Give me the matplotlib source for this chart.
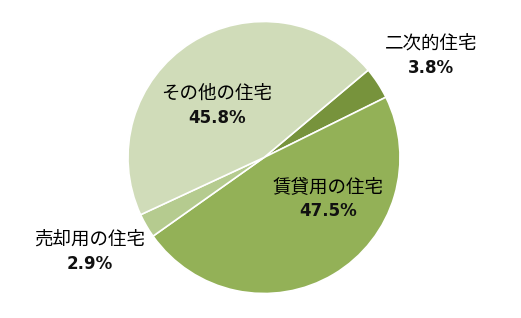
import matplotlib
matplotlib.use("Agg")
import matplotlib.pyplot as plt

plt.rcParams['font.family'] = ['Noto Sans CJK JP', 'DejaVu Sans']

# data (clockwise from the upper right)
labels = ['二次的住宅', '賃貸用の住宅', '売却用の住宅', 'その他の住宅']
shares = [3.8, 47.5, 2.9, 45.8]
colors = ['#77933c', '#93b157', '#b5cb8f', '#d0dcb9']

# label positions in pie units (radius = 1)
label_pos = [(1.228, 0.748), (0.471, -0.306), (-1.279, -0.691), (-0.346, 0.382)]

fig = plt.figure(figsize=(5.21, 3.18), dpi=100)
ax = fig.add_axes([0, 0, 1, 1])

ax.pie(shares, colors=colors, startangle=40, counterclock=False,
       radius=1.0, center=(0, 0),
       wedgeprops=dict(edgecolor='white', linewidth=1.2))

for name, val, (x, y) in zip(labels, shares, label_pos):
    ax.text(x, y + 0.09, name, ha='center', va='center', fontsize=13.3, color='black')
    ax.text(x, y - 0.09, f'{val:.1f}%', ha='center', va='center',
            fontsize=12, fontweight='bold', color='#111111', family=['DejaVu Sans'])

ax.set_xlim(-264 / 136, (521 - 264) / 136)
ax.set_ylim((157.5 - 318) / 136, 157.5 / 136)
ax.set_aspect('equal')
ax.axis('off')

fig.savefig('out.png', dpi=100, facecolor='white')
